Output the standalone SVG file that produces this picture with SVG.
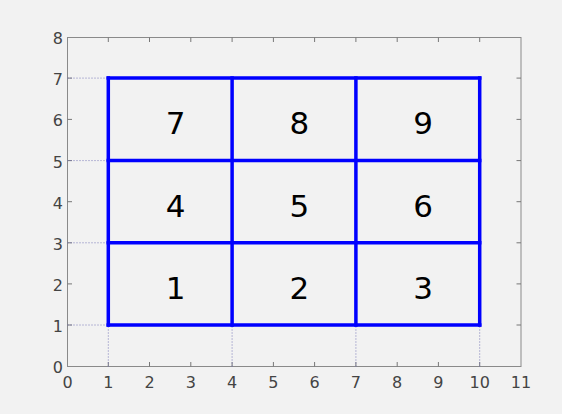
<svg xmlns="http://www.w3.org/2000/svg" width="562" height="414" viewBox="0 0 562 414">
<style>
.tick{stroke:#777;stroke-width:1}
.ax{fill:none;stroke:#8a8a8a;stroke-width:1}
.dot{stroke:#7a7ab8;stroke-width:1;stroke-dasharray:1,2}
.blue{stroke:#0000ff;stroke-width:3.5;fill:none;stroke-linecap:square}
.tl{font-family:"DejaVu Sans",sans-serif;font-size:16px;fill:#444}
.num{font-family:"DejaVu Sans",sans-serif;font-size:31px;fill:#000;text-anchor:middle}
</style>
<rect width="562" height="414" fill="#f2f2f2"/>
<g id="axes">
<rect class="ax" x="67.5" y="37.5" width="453.5" height="329"/>
<g class="tick">
<path d="M108.3 366.5v-4.5M149.5 366.5v-4.5M190.8 366.5v-4.5M232.1 366.5v-4.5M273.4 366.5v-4.5M314.6 366.5v-4.5M355.9 366.5v-4.5M397.2 366.5v-4.5M438.4 366.5v-4.5M479.7 366.5v-4.5"/>
<path d="M108.3 37.5v4.5M149.5 37.5v4.5M190.8 37.5v4.5M232.1 37.5v4.5M273.4 37.5v4.5M314.6 37.5v4.5M355.9 37.5v4.5M397.2 37.5v4.5M438.4 37.5v4.5M479.7 37.5v4.5"/>
<path d="M67.5 325h4.5M67.5 283.9h4.5M67.5 242.8h4.5M67.5 201.7h4.5M67.5 160.6h4.5M67.5 119.4h4.5M67.5 78.1h4.5"/>
<path d="M521 325h-4.5M521 283.9h-4.5M521 242.8h-4.5M521 201.7h-4.5M521 160.6h-4.5M521 119.4h-4.5M521 78.1h-4.5"/>
</g>
<g class="tl" text-anchor="middle">
<text x="67.5" y="387.5">0</text><text x="108.3" y="387.5">1</text><text x="149.5" y="387.5">2</text><text x="190.8" y="387.5">3</text><text x="232.1" y="387.5">4</text><text x="273.4" y="387.5">5</text><text x="314.6" y="387.5">6</text><text x="355.9" y="387.5">7</text><text x="397.2" y="387.5">8</text><text x="438.4" y="387.5">9</text><text x="479.7" y="387.5">10</text><text x="521" y="387.5">11</text>
</g>
<g class="tl" text-anchor="end">
<text x="63" y="372.5">0</text><text x="63" y="331.5">1</text><text x="63" y="290.5">2</text><text x="63" y="249.5">3</text><text x="63" y="208.5">4</text><text x="63" y="167.5">5</text><text x="63" y="126">6</text><text x="63" y="84.5">7</text><text x="63" y="43.5">8</text>
</g>
</g>
<g id="connectors">
<path class="dot" d="M67.5 78.1H108.3M67.5 160.6H108.3M67.5 242.8H108.3M67.5 325H108.3"/>
<path class="dot" d="M108.3 366.5V325M232.1 366.5V325M355.9 366.5V325M479.7 366.5V325"/>
<path class="blue" d="M108.3 78.1H479.7M108.3 160.6H479.7M108.3 242.8H479.7M108.3 325H479.7"/>
<path class="blue" d="M108.3 78.1V325M232.1 78.1V325M355.9 78.1V325M479.7 78.1V325"/>
</g>
<g id="cell7"><text class="num" x="175.5" y="134">7</text></g>
<g id="cell8"><text class="num" x="299.3" y="134">8</text></g>
<g id="cell9"><text class="num" x="423" y="134">9</text></g>
<g id="cell4"><text class="num" x="175.5" y="216.5">4</text></g>
<g id="cell5"><text class="num" x="299.3" y="216.5">5</text></g>
<g id="cell6"><text class="num" x="423" y="216.5">6</text></g>
<g id="cell1"><text class="num" x="175.5" y="299">1</text></g>
<g id="cell2"><text class="num" x="299.3" y="299">2</text></g>
<g id="cell3"><text class="num" x="423" y="299">3</text></g>
</svg>
